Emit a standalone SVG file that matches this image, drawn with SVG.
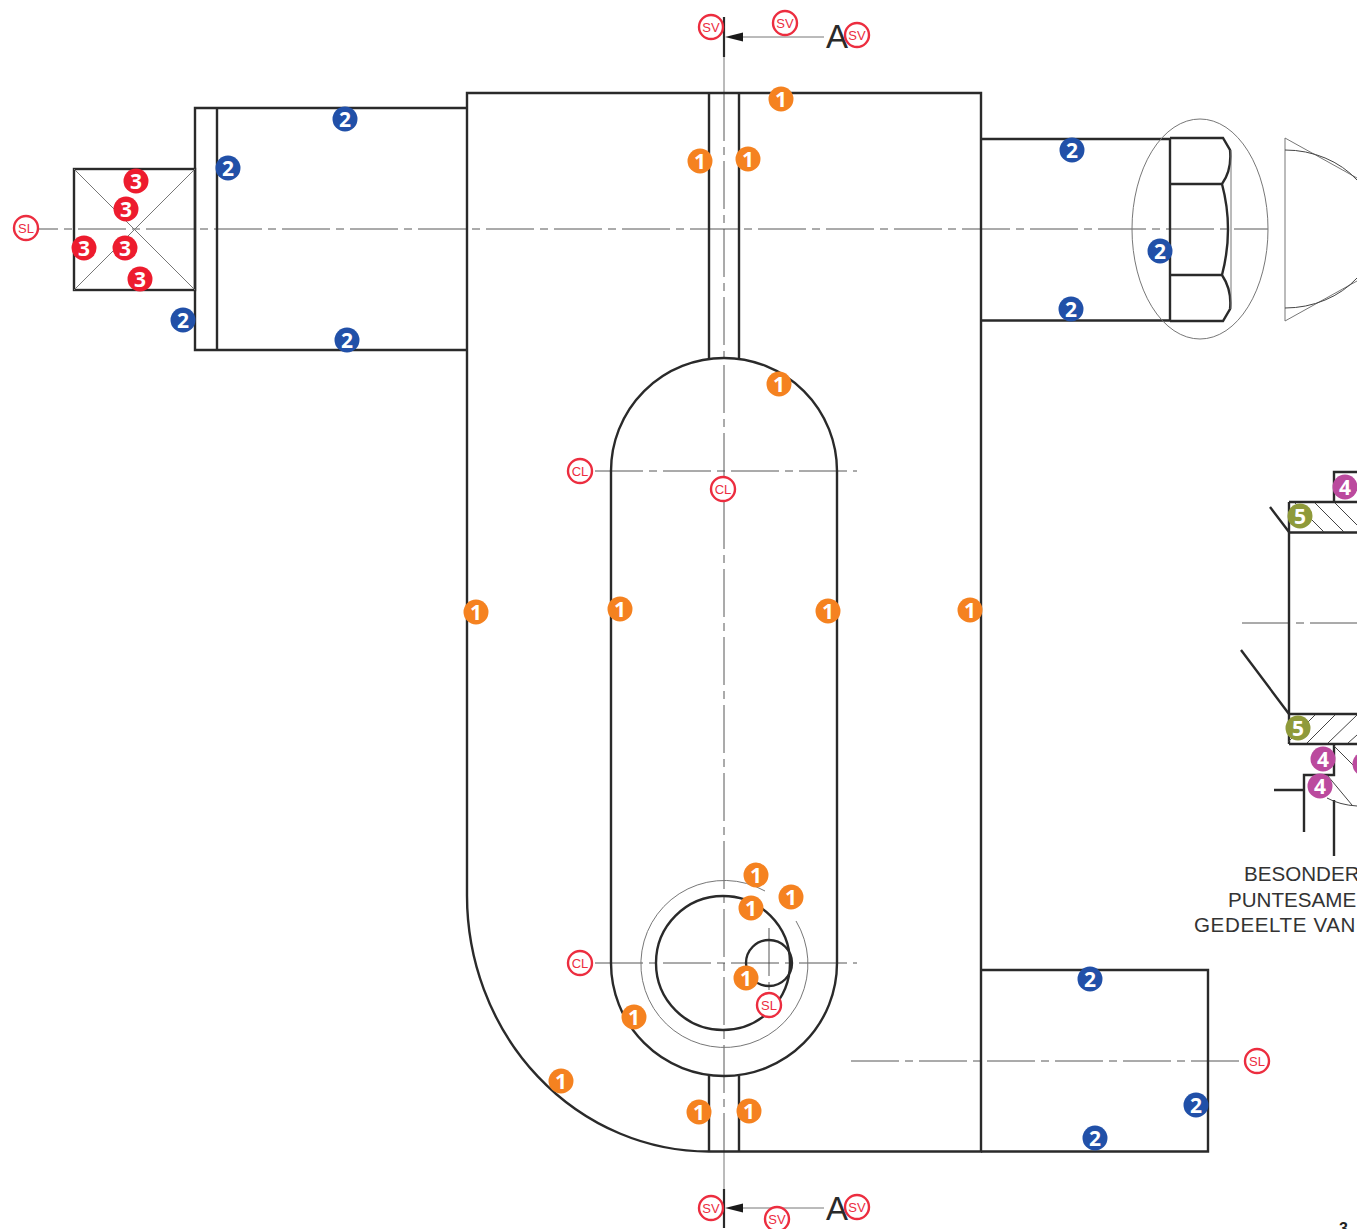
<svg xmlns="http://www.w3.org/2000/svg" width="1357" height="1229" viewBox="0 0 1357 1229">
<style>
.o{fill:none;stroke:#2a2a2a;stroke-width:2.4}
.t{fill:none;stroke:#777;stroke-width:1}
.h{fill:none;stroke:#444;stroke-width:1}
.c{fill:none;stroke:#444;stroke-width:.9;stroke-dasharray:48 6 8 6}
.b text{font-family:"Open Sans","Noto Sans",sans-serif;font-weight:700;font-size:21px;fill:#fff;text-anchor:middle}
.one circle{fill:#f58220}.two circle{fill:#2150a8}.three circle{fill:#ed1c2e}.four circle{fill:#bb4a9e}.five circle{fill:#8f9a3a}
.r circle{fill:#fff;stroke:#ec2d3f;stroke-width:2.4}
.r text{font-family:"Liberation Sans",Arial,sans-serif;font-size:13px;fill:#ec2d3f;text-anchor:middle}
.l{font-family:"Liberation Sans",Arial,sans-serif;font-size:20.6px;fill:#333}
.a{font-family:"Liberation Sans",Arial,sans-serif;font-size:33px;fill:#2a2a2a}
</style>
<rect width="1357" height="1229" fill="#fff"/>
<g id="connectors">
<path class="c" stroke-dashoffset="28" d="M38 229H1268"/>
<path class="c" d="M724 93V1151"/>
<path class="t" d="M724 57V93M724 1151V1190"/>
<path class="c" d="M595 471H857M595 963H857"/>
<path class="c" d="M851 1061H1244"/>
<path class="c" d="M769 928V1000"/>
<path class="c" d="M1242 623H1357"/>
</g>
<g id="main-plate">
<path class="o" d="M467 93H981V1151.500H709A242 256 0 0 1 467 895Z"/>
<path class="o" d="M709 93V358M739 93V358M709 1076V1151M739 1076V1151"/>
<path class="o" d="M611 471A113 113 0 0 1 837 471V963A113 113 0 0 1 611 963Z"/>
</g>
<g id="hole">
<circle class="o" cx="723" cy="963" r="67"/>
<circle class="o" cx="769" cy="963" r="23"/>
<path class="t" d="M796 921A83.500 83.500 0 1 1 765 891"/>
</g>
<g id="left-arm">
<path class="o" d="M467 108H195V350H467M217 108V350"/>
<rect class="o" x="74" y="169" width="121" height="121"/>
<path class="t" d="M74 169L195 290M74 290L195 169"/>
</g>
<g id="right-arm">
<path class="o" d="M981 139H1170M981 320.500H1170"/>
<path class="o" d="M1170 138V321M1170 138H1223L1230 150Q1232 170 1222 184H1170M1222 184Q1234 229 1222 275H1170M1222 275Q1232 290 1230 309L1223 321H1170"/>
<path class="t" d="M1231 150V309"/>
<ellipse class="t" cx="1200" cy="229" rx="68" ry="110"/>
<path d="M1285 138V321" fill="none" stroke="#aaa" stroke-width="1.600"/>
<path class="t" d="M1285 138L1357 178M1285 321L1357 281"/>
<path class="h" d="M1285 150A92 79 0 0 1 1357 180M1285 308A92 79 0 0 0 1357 278"/>
</g>
<g id="lower-arm">
<path class="o" d="M981 970H1208V1151.500H981"/>
</g>
<g id="detail">
<path class="o" d="M1289 502V744M1289 502H1357M1289 532.500H1357M1289 714H1357M1289 744H1357M1334 502V472H1357"/>
<path class="o" d="M1270 507L1289 532M1241 650L1289 714"/>
<path class="o" d="M1334 744V775H1304V832M1274 790H1304M1334 800V856"/>
<path class="h" d="M1295 503L1324 532M1315 503L1344 532M1335 503L1357 525M1315 715L1288 742M1335 715L1307 743M1357 715L1328 743M1357 735L1348 743M1334 746L1357 769M1327 775L1352 805M1327 798Q1340 805 1357 806"/>
<text class="l" x="1244" y="881">BESONDER</text>
<text class="l" x="1228" y="907">PUNTESAME</text>
<text class="l" x="1194" y="932" letter-spacing=".6">GEDEELTE VAN</text>
<text x="1339" y="1234" font-family="Liberation Sans,Arial,sans-serif" font-weight="700" font-size="16" fill="#222">3</text>
</g>
<g id="section-top">
<path d="M724 17V57" stroke="#2a2a2a" stroke-width="2.200" fill="none"/>
<path class="t" d="M742 37H824"/>
<path d="M725 37L743 32.500V41.500Z" fill="#1a1a1a"/>
<text class="a" x="826" y="48">A</text>
</g>
<g id="section-bottom">
<path d="M724 1189V1228" stroke="#2a2a2a" stroke-width="2.200" fill="none"/>
<path class="t" d="M742 1208H824"/>
<path d="M725 1208L743 1203.500V1212.500Z" fill="#1a1a1a"/>
<text class="a" x="826" y="1220">A</text>
</g>
<g id="badge-1a" class="b one"><circle cx="781" cy="99" r="12.500"/><text x="781" y="107">1</text></g>
<g id="badge-1b" class="b one"><circle cx="700" cy="161" r="12.500"/><text x="700" y="169">1</text></g>
<g id="badge-1c" class="b one"><circle cx="748" cy="159" r="12.500"/><text x="748" y="167">1</text></g>
<g id="badge-1d" class="b one"><circle cx="779" cy="384" r="12.500"/><text x="779" y="392">1</text></g>
<g id="badge-1e" class="b one"><circle cx="476" cy="612" r="12.500"/><text x="476" y="620">1</text></g>
<g id="badge-1f" class="b one"><circle cx="620" cy="609" r="12.500"/><text x="620" y="617">1</text></g>
<g id="badge-1g" class="b one"><circle cx="828" cy="611" r="12.500"/><text x="828" y="619">1</text></g>
<g id="badge-1h" class="b one"><circle cx="970" cy="610" r="12.500"/><text x="970" y="618">1</text></g>
<g id="badge-1i" class="b one"><circle cx="756" cy="875" r="12.500"/><text x="756" y="883">1</text></g>
<g id="badge-1j" class="b one"><circle cx="791" cy="897" r="12.500"/><text x="791" y="905">1</text></g>
<g id="badge-1k" class="b one"><circle cx="751" cy="908" r="12.500"/><text x="751" y="916">1</text></g>
<g id="badge-1l" class="b one"><circle cx="746" cy="978" r="12.500"/><text x="746" y="986">1</text></g>
<g id="badge-1m" class="b one"><circle cx="634" cy="1017" r="12.500"/><text x="634" y="1025">1</text></g>
<g id="badge-1n" class="b one"><circle cx="561" cy="1081" r="12.500"/><text x="561" y="1089">1</text></g>
<g id="badge-1o" class="b one"><circle cx="699" cy="1112" r="12.500"/><text x="699" y="1120">1</text></g>
<g id="badge-1p" class="b one"><circle cx="749" cy="1111" r="12.500"/><text x="749" y="1119">1</text></g>
<g id="badge-2a" class="b two"><circle cx="345" cy="119" r="12.500"/><text x="345" y="127">2</text></g>
<g id="badge-2b" class="b two"><circle cx="228" cy="168" r="12.500"/><text x="228" y="176">2</text></g>
<g id="badge-2c" class="b two"><circle cx="183" cy="320" r="12.500"/><text x="183" y="328">2</text></g>
<g id="badge-2d" class="b two"><circle cx="347" cy="340" r="12.500"/><text x="347" y="348">2</text></g>
<g id="badge-2e" class="b two"><circle cx="1072" cy="150" r="12.500"/><text x="1072" y="158">2</text></g>
<g id="badge-2f" class="b two"><circle cx="1160" cy="251" r="12.500"/><text x="1160" y="259">2</text></g>
<g id="badge-2g" class="b two"><circle cx="1071" cy="309" r="12.500"/><text x="1071" y="317">2</text></g>
<g id="badge-2h" class="b two"><circle cx="1090" cy="979" r="12.500"/><text x="1090" y="987">2</text></g>
<g id="badge-2i" class="b two"><circle cx="1196" cy="1105" r="12.500"/><text x="1196" y="1113">2</text></g>
<g id="badge-2j" class="b two"><circle cx="1095" cy="1138" r="12.500"/><text x="1095" y="1146">2</text></g>
<g id="badge-3a" class="b three"><circle cx="136" cy="181" r="12.500"/><text x="136" y="189">3</text></g>
<g id="badge-3b" class="b three"><circle cx="126" cy="209" r="12.500"/><text x="126" y="217">3</text></g>
<g id="badge-3c" class="b three"><circle cx="84" cy="248" r="12.500"/><text x="84" y="256">3</text></g>
<g id="badge-3d" class="b three"><circle cx="125" cy="248" r="12.500"/><text x="125" y="256">3</text></g>
<g id="badge-3e" class="b three"><circle cx="140" cy="279" r="12.500"/><text x="140" y="287">3</text></g>
<g id="badge-4a" class="b four"><circle cx="1345" cy="487" r="12.500"/><text x="1345" y="495">4</text></g>
<g id="badge-4b" class="b four"><circle cx="1323" cy="759" r="12.500"/><text x="1323" y="767">4</text></g>
<g id="badge-4c" class="b four"><circle cx="1320" cy="786" r="12.500"/><text x="1320" y="794">4</text></g>
<g id="badge-4d" class="b four"><circle cx="1365" cy="764" r="12.500"/></g>
<g id="badge-5a" class="b five"><circle cx="1300" cy="516" r="12.500"/><text x="1300" y="524">5</text></g>
<g id="badge-5b" class="b five"><circle cx="1298" cy="728" r="12.500"/><text x="1298" y="736">5</text></g>
<g id="ref-sv1" class="r"><circle cx="711" cy="27" r="12"/><text x="711" y="31.500">SV</text></g>
<g id="ref-sv2" class="r"><circle cx="785" cy="23" r="12"/><text x="785" y="27.500">SV</text></g>
<g id="ref-sv3" class="r"><circle cx="857" cy="35" r="12"/><text x="857" y="39.500">SV</text></g>
<g id="ref-sv4" class="r"><circle cx="711" cy="1208" r="12"/><text x="711" y="1212.500">SV</text></g>
<g id="ref-sv5" class="r"><circle cx="777" cy="1219" r="12"/><text x="777" y="1223.500">SV</text></g>
<g id="ref-sv6" class="r"><circle cx="857" cy="1207" r="12"/><text x="857" y="1211.500">SV</text></g>
<g id="ref-sl1" class="r"><circle cx="26" cy="228" r="12"/><text x="26" y="232.500">SL</text></g>
<g id="ref-sl2" class="r"><circle cx="769" cy="1005" r="12"/><text x="769" y="1009.500">SL</text></g>
<g id="ref-sl3" class="r"><circle cx="1257" cy="1061" r="12"/><text x="1257" y="1065.500">SL</text></g>
<g id="ref-cl1" class="r"><circle cx="580" cy="471" r="12"/><text x="580" y="475.500">CL</text></g>
<g id="ref-cl2" class="r"><circle cx="723" cy="489" r="12"/><text x="723" y="493.500">CL</text></g>
<g id="ref-cl3" class="r"><circle cx="580" cy="963" r="12"/><text x="580" y="967.500">CL</text></g>
</svg>
